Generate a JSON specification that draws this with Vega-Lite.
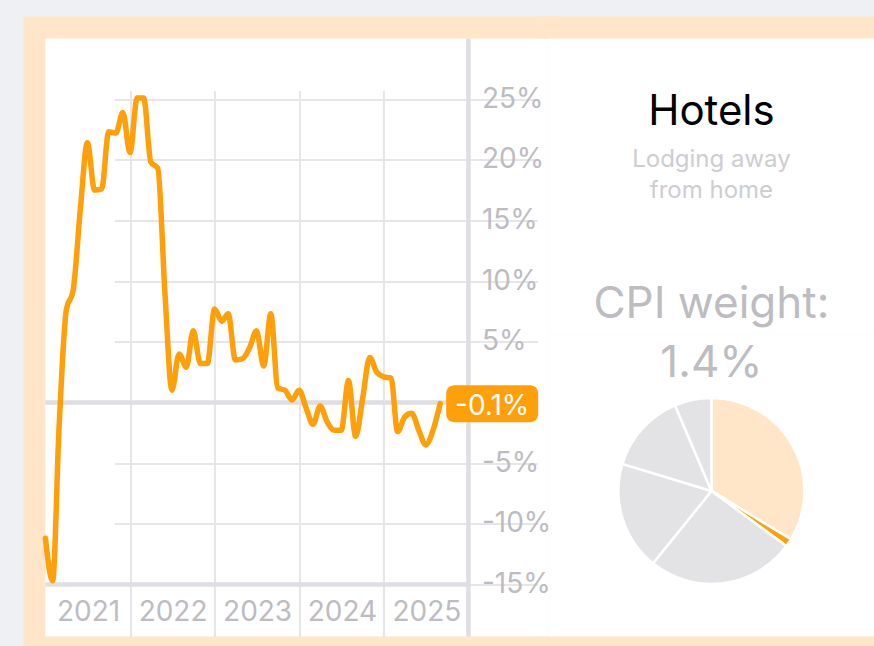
{
  "$schema": "https://vega.github.io/schema/vega-lite/v6.json",
  "background": "#eef0f4",
  "padding": {"left": 18.44, "top": 11.44, "right": 0, "bottom": 0},
  "bounds": "flush",
  "spacing": 0,
  "config": {
    "view": {"fill": "#ffffff", "stroke": null},
    "font": "Inter"
  },
  "datasets": {
    "cpi": [
      {"date": "2021-01-01", "value": -11.2},
      {"date": "2021-02-01", "value": -14.7},
      {"date": "2021-03-01", "value": -2.0},
      {"date": "2021-04-01", "value": 7.6},
      {"date": "2021-05-01", "value": 9.3},
      {"date": "2021-06-01", "value": 16.0},
      {"date": "2021-07-01", "value": 21.4},
      {"date": "2021-08-01", "value": 17.5},
      {"date": "2021-09-01", "value": 17.6},
      {"date": "2021-10-01", "value": 22.3},
      {"date": "2021-11-01", "value": 22.2},
      {"date": "2021-12-01", "value": 23.9},
      {"date": "2022-01-01", "value": 20.6},
      {"date": "2022-02-01", "value": 25.1},
      {"date": "2022-03-01", "value": 25.1},
      {"date": "2022-04-01", "value": 19.8},
      {"date": "2022-05-01", "value": 19.3},
      {"date": "2022-06-01", "value": 9.0},
      {"date": "2022-07-01", "value": 1.0},
      {"date": "2022-08-01", "value": 4.0},
      {"date": "2022-09-01", "value": 2.9},
      {"date": "2022-10-01", "value": 5.9},
      {"date": "2022-11-01", "value": 3.2},
      {"date": "2022-12-01", "value": 3.2},
      {"date": "2023-01-01", "value": 7.7},
      {"date": "2023-02-01", "value": 6.7},
      {"date": "2023-03-01", "value": 7.3},
      {"date": "2023-04-01", "value": 3.5},
      {"date": "2023-05-01", "value": 3.6},
      {"date": "2023-06-01", "value": 4.5},
      {"date": "2023-07-01", "value": 5.9},
      {"date": "2023-08-01", "value": 3.0},
      {"date": "2023-09-01", "value": 7.3},
      {"date": "2023-10-01", "value": 1.2},
      {"date": "2023-11-01", "value": 1.0},
      {"date": "2023-12-01", "value": 0.2},
      {"date": "2024-01-01", "value": 1.0},
      {"date": "2024-02-01", "value": -0.5},
      {"date": "2024-03-01", "value": -1.8},
      {"date": "2024-04-01", "value": -0.3},
      {"date": "2024-05-01", "value": -1.6},
      {"date": "2024-06-01", "value": -2.3},
      {"date": "2024-07-01", "value": -2.3},
      {"date": "2024-08-01", "value": 1.8},
      {"date": "2024-09-01", "value": -2.8},
      {"date": "2024-10-01", "value": 0.3},
      {"date": "2024-11-01", "value": 3.7},
      {"date": "2024-12-01", "value": 2.5},
      {"date": "2025-01-01", "value": 2.1},
      {"date": "2025-02-01", "value": 2.0},
      {"date": "2025-03-01", "value": -2.4},
      {"date": "2025-04-01", "value": -1.2},
      {"date": "2025-05-01", "value": -0.9},
      {"date": "2025-06-01", "value": -2.3},
      {"date": "2025-07-01", "value": -3.5},
      {"date": "2025-08-01", "value": -2.3},
      {"date": "2025-09-01", "value": -0.1}
    ],
    "latest": [
      {"date": "2025-09-01", "value": -0.1, "label": "-0.1%"}
    ],
    "weights": [
      {"component": "Shelter (excl. hotels)", "weight": 33.7, "idx": 1},
      {"component": "Hotels", "weight": 1.4, "idx": 2},
      {"component": "Other services", "weight": 25.7, "idx": 3},
      {"component": "Core goods", "weight": 18.9, "idx": 4},
      {"component": "Food", "weight": 13.9, "idx": 5},
      {"component": "Energy", "weight": 6.4, "idx": 6}
    ],
    "info": [
      {"name": "Hotels", "description": "Lodging away\nfrom home", "weight": "CPI weight:\n1.4%"}
    ]
  },
  "hconcat": [
    {
      "width": 514,
      "height": 620,
      "view": {"fill": "#ffffff", "stroke": "#ffe6c9", "strokeWidth": 22, "strokeCap": "square", "strokeDash": [514, 620, 1134]},
      "layer": [
        {
          "data": {"name": "latest"},
          "mark": {"type": "rule", "color": "#dedee3", "strokeWidth": 4.5, "y2Offset": 52},
          "encoding": {
            "x": {"datum": {"year": 2026, "month": 1, "date": 1}, "type": "temporal"},
            "y": {"datum": 30, "type": "quantitative"},
            "y2": {"datum": -15}
          }
        },
        {
          "data": {"name": "latest"},
          "mark": {"type": "rule", "color": "#dedee3", "strokeWidth": 4.5},
          "encoding": {
            "y": {"datum": 0, "type": "quantitative"},
            "x": {"datum": {"year": 2021, "month": 1, "date": 1}, "type": "temporal"},
            "x2": {"datum": {"year": 2026, "month": 1, "date": 1}}
          }
        },
        {
          "data": {"name": "latest"},
          "mark": {"type": "rule", "color": "#dedee3", "strokeWidth": 4.5},
          "encoding": {
            "y": {"datum": -15, "type": "quantitative"},
            "x": {"datum": {"year": 2021, "month": 1, "date": 1}, "type": "temporal"},
            "x2": {"datum": {"year": 2026, "month": 1, "date": 1}}
          }
        },
        {
          "data": {"name": "cpi"},
          "mark": {"type": "line", "interpolate": "monotone", "color": "#ff9f0a", "strokeWidth": 5.5, "strokeCap": "round", "strokeJoin": "round"},
          "encoding": {
            "x": {
              "field": "date",
              "type": "temporal",
              "scale": {
                "domain": [{"year": 2021, "month": 1, "date": 1}, {"year": 2026, "month": 1, "date": 1}],
                "range": [11, 434]
              },
              "axis": {
                "orient": "bottom",
                "offset": -63,
                "values": [
                  {"year": 2022, "month": 1, "date": 1},
                  {"year": 2023, "month": 1, "date": 1},
                  {"year": 2024, "month": 1, "date": 1},
                  {"year": 2025, "month": 1, "date": 1},
                  {"year": 2026, "month": 1, "date": 1}
                ],
                "grid": true,
                "gridColor": "#e5e5ea",
                "gridWidth": 2,
                "domain": false,
                "ticks": true,
                "tickSize": 52,
                "tickColor": "#e5e5ea",
                "tickWidth": 2,
                "labelExpr": "'' + (year(datum.value) - 1)",
                "labelOffset": -42,
                "labelPadding": -24,
                "labelFontSize": 28,
                "labelColor": "#bcbcc1",
                "labelFlush": false,
                "labelBaseline": "middle",
                "labelOverlap": false,
                "labelBound": false,
                "title": null
              }
            },
            "y": {
              "field": "value",
              "type": "quantitative",
              "scale": {"domain": [-15, 30], "range": [557, 11], "nice": false, "zero": false},
              "axis": {
                "orient": "right",
                "offset": -80,
                "values": [-15, -10, -5, 0, 5, 10, 15, 20, 25],
                "grid": true,
                "gridColor": "#e5e5ea",
                "gridWidth": 2,
                "domain": false,
                "ticks": false,
                "labelPadding": 13,
                "labelExpr": "datum.value == 0 ? '' : datum.value + '%'",
                "labelFontSize": 28,
                "labelColor": "#bcbcc1",
                "labelAlign": "left",
                "labelBaseline": "middle",
                "labelOverlap": false,
                "labelBound": false,
                "labelFlush": false,
                "title": null
              }
            }
          }
        },
        {
          "data": {"name": "latest"},
          "mark": {"type": "rect", "color": "#ff9f0a", "cornerRadius": 8, "xOffset": 6, "x2Offset": 98, "yOffset": -18.5, "y2Offset": 18.5},
          "encoding": {
            "x": {"field": "date", "type": "temporal"},
            "x2": {"field": "date"},
            "y": {"field": "value", "type": "quantitative"},
            "y2": {"field": "value"}
          }
        },
        {
          "data": {"name": "latest"},
          "mark": {"type": "text", "color": "#ffffff", "fontSize": 28, "align": "center", "baseline": "middle", "dx": 52, "dy": 3},
          "encoding": {
            "x": {"field": "date", "type": "temporal"},
            "y": {"field": "value", "type": "quantitative"},
            "text": {"field": "label"}
          }
        }
      ]
    },
    {
      "vconcat": [
        {
          "width": 326,
          "height": 307,
          "view": {"fill": "#ffffff", "stroke": "#ffe6c9", "strokeWidth": 22, "strokeCap": "square", "strokeDash": [326, 940]},
          "data": {"name": "info"},
          "layer": [
            {
              "mark": {"type": "text", "fontSize": 42, "color": "#000000", "align": "center", "baseline": "alphabetic", "dy": -55.5},
              "encoding": {"text": {"field": "name"}}
            },
            {
              "mark": {"type": "text", "fontSize": 24, "color": "#cdcdd2", "align": "center", "baseline": "alphabetic", "dy": -13.5, "lineBreak": "\n", "lineHeight": 31},
              "encoding": {"text": {"field": "description"}}
            }
          ]
        },
        {
          "width": 326,
          "height": 313,
          "view": {"fill": "#ffffff", "stroke": "#ffe6c9", "strokeWidth": 22, "strokeCap": "square", "strokeDash": [326, 952], "strokeDashOffset": 639},
          "layer": [
            {
              "data": {"name": "weights"},
              "mark": {"type": "arc", "outerRadius": 93, "stroke": "#ffffff", "strokeWidth": 2.5},
              "encoding": {
                "theta": {"field": "weight", "type": "quantitative", "stack": true},
                "order": {"field": "idx", "type": "quantitative"},
                "color": {
                  "field": "component",
                  "type": "nominal",
                  "scale": {
                    "domain": ["Shelter (excl. hotels)", "Hotels", "Other services", "Core goods", "Food", "Energy"],
                    "range": ["#ffe6c8", "#ff9f0a", "#e3e3e6", "#e3e3e6", "#e3e3e6", "#e3e3e6"]
                  },
                  "legend": null
                }
              }
            },
            {
              "data": {"name": "info"},
              "mark": {"type": "text", "fontSize": 44, "color": "#bcbcc1", "align": "center", "baseline": "alphabetic", "dy": -172.5, "lineBreak": "\n", "lineHeight": 59},
              "encoding": {"text": {"field": "weight"}}
            }
          ]
        }
      ],
      "spacing": 0,
      "bounds": "flush"
    }
  ]
}
